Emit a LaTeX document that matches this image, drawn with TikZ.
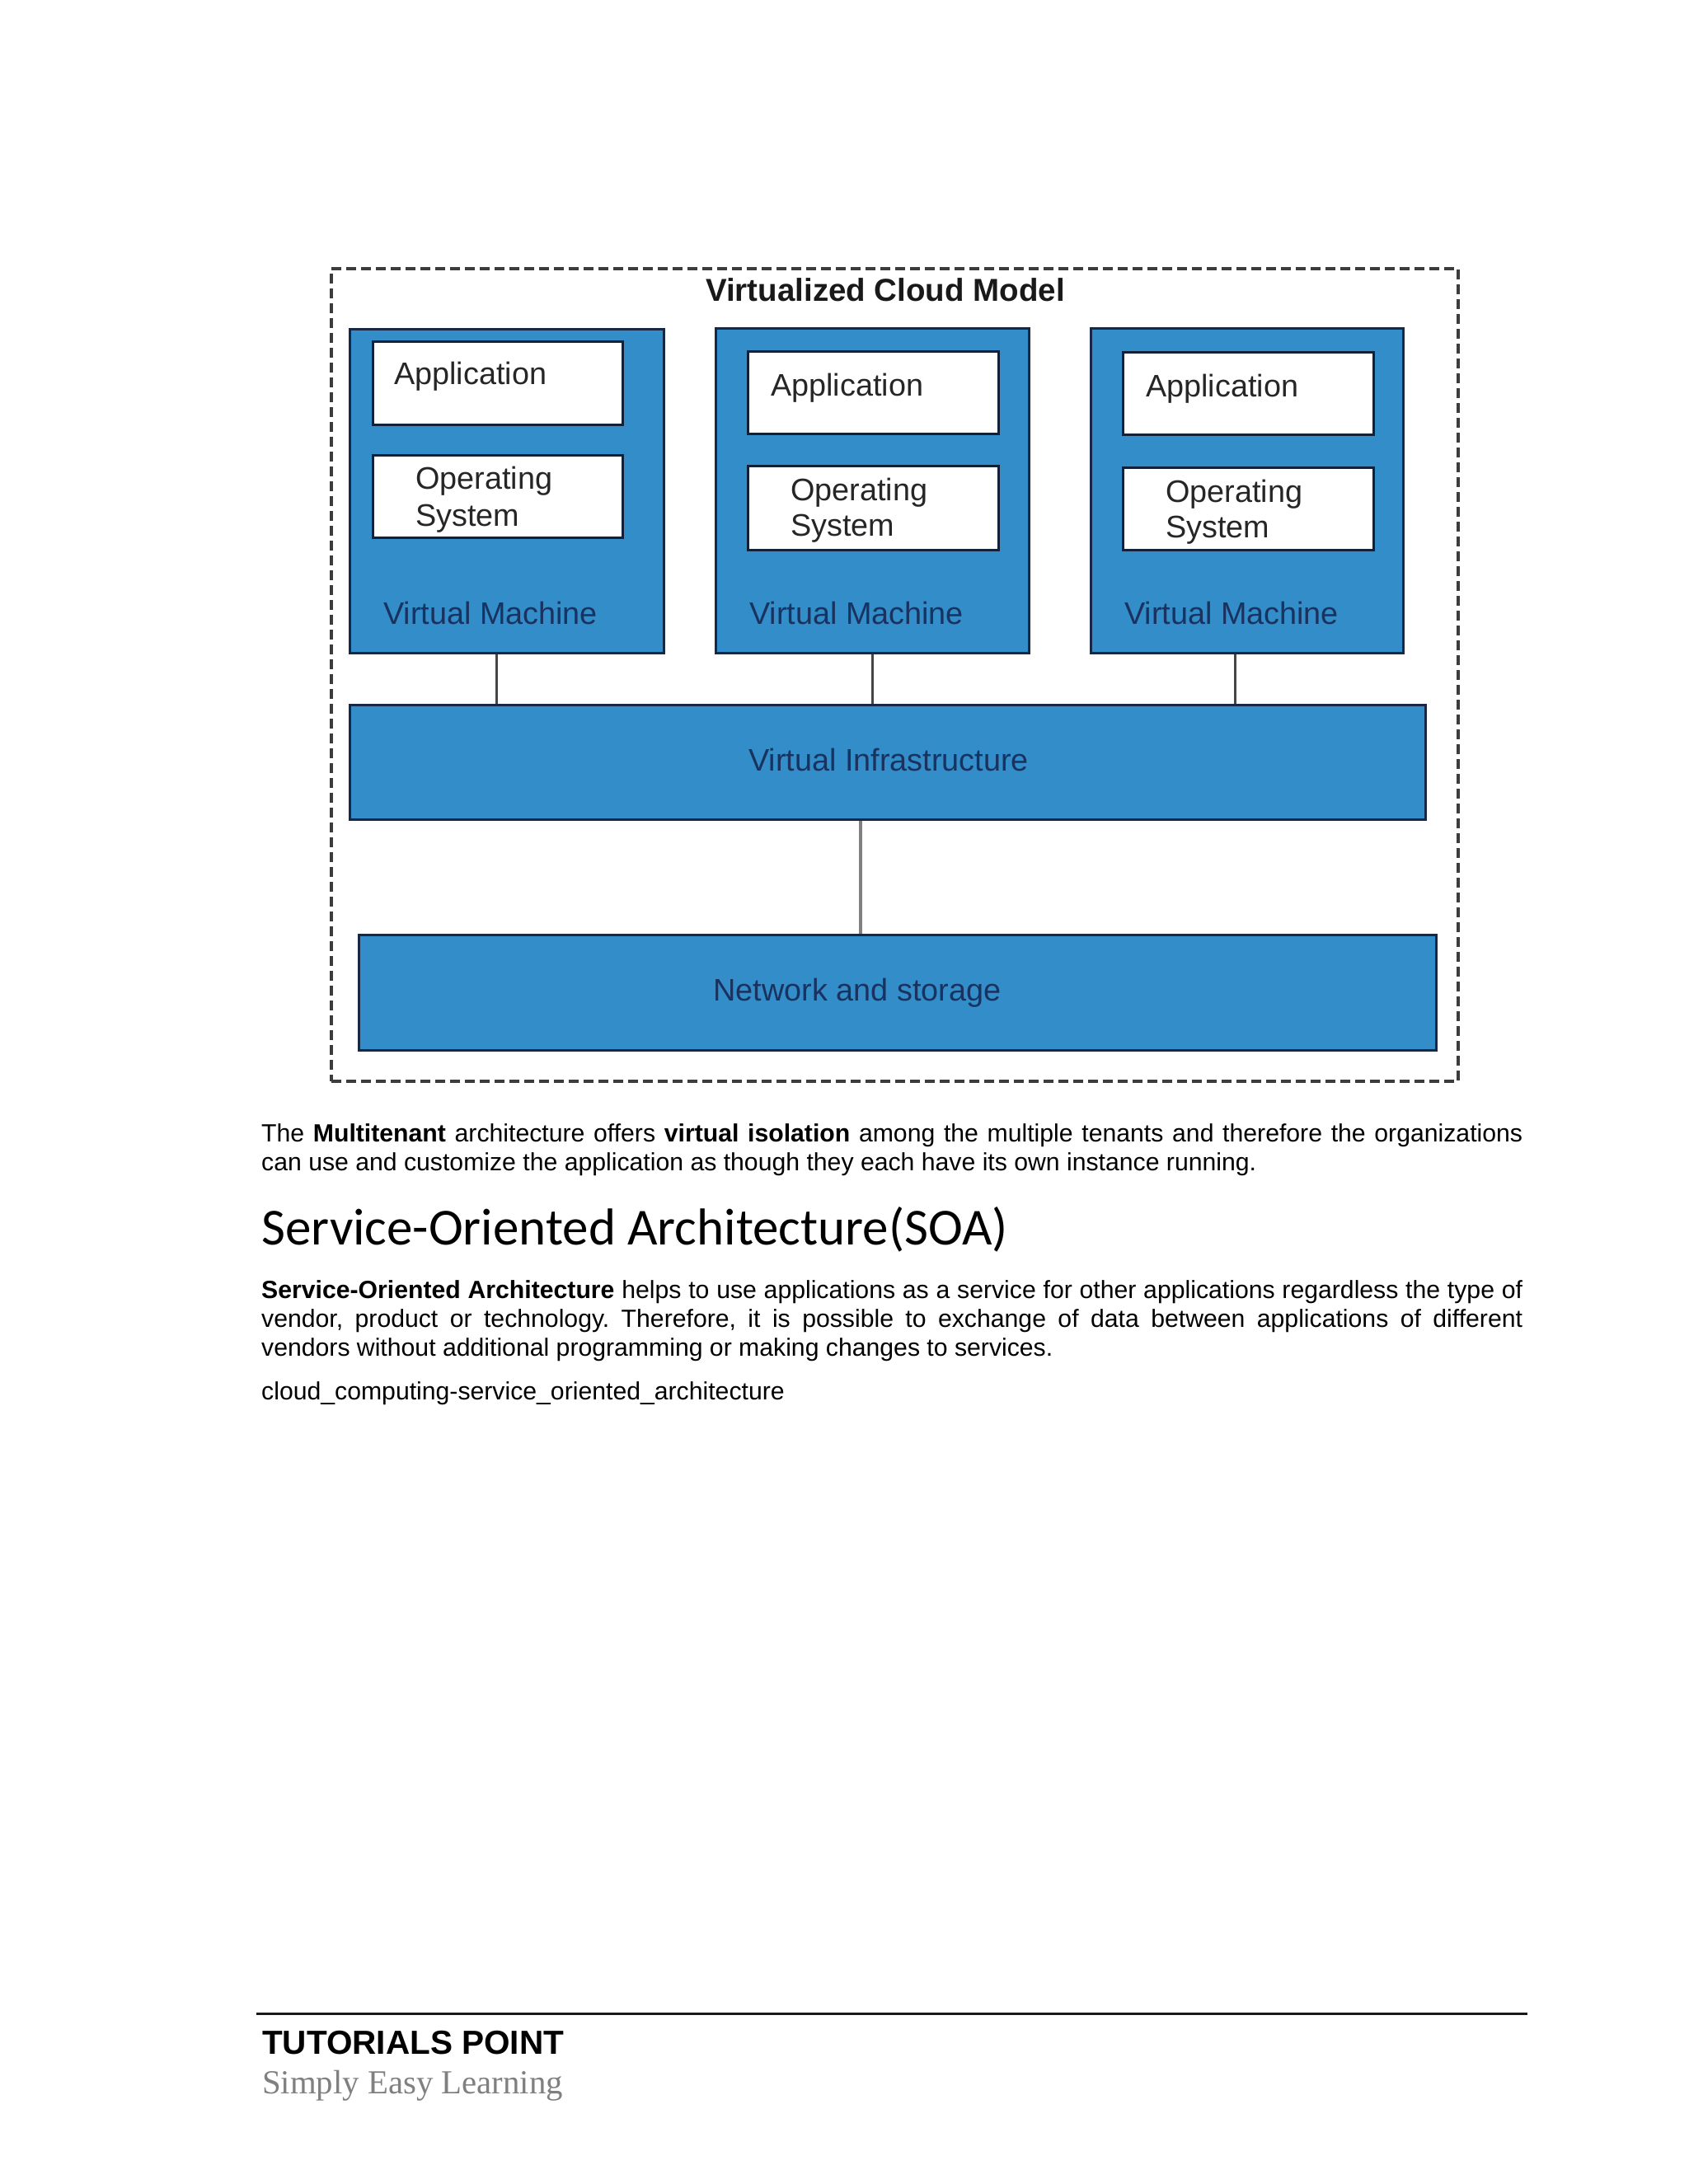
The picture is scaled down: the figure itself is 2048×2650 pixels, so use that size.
\documentclass[tikz,border=0pt]{standalone}
\usepackage{fontspec}
\setmainfont{Liberation Sans}
\newfontfamily\headfont{Carlito}
\newfontfamily\footserif{Liberation Serif}
\frenchspacing
\definecolor{vmblue}{RGB}{50,141,200}
\definecolor{navy}{RGB}{22,40,70}
\definecolor{vmtext}{RGB}{25,50,95}
\definecolor{framegray}{RGB}{60,60,60}
\definecolor{linkgray}{RGB}{70,70,70}
\definecolor{footgray}{RGB}{128,128,128}
\tikzset{
  vmbox/.style={draw=navy, fill=vmblue, line width=3pt, anchor=north west, inner sep=0pt},
  whitebox/.style={draw=navy!80!black, fill=white, line width=3.2pt, anchor=north west, inner sep=0pt},
  layerbox/.style={draw=navy, fill=vmblue, line width=3pt, anchor=north west, inner sep=0pt},
  dtext/.style={anchor=base west, inner sep=0pt, font=\fontsize{37.8}{44}\selectfont, text=black!85},
  vmlabel/.style={anchor=base west, inner sep=0pt, font=\fontsize{37.8}{44}\selectfont, text=vmtext},
  ctext/.style={anchor=base, inner sep=0pt, font=\fontsize{37.8}{44}\selectfont, text=vmtext},
  body/.style={anchor=base west, inner sep=0pt, font=\fontsize{30.2}{35}\selectfont},
  link/.style={draw=linkgray, line width=3pt},
}
\begin{document}
\begin{tikzpicture}[x=1pt,y=-1pt]
\useasboundingbox[fill=white] (0,0) rectangle (2048,2650);

% dashed frame
\node[draw=framegray, dash pattern=on 12pt off 6pt, line width=3.5pt, anchor=north west, inner sep=0pt,
      minimum width=1367pt, minimum height=986pt] (frame) at (400,324) {};
\node[anchor=base, inner sep=0pt, font=\fontsize{38.5}{44}\selectfont\bfseries, text=black!90] (title) at (1074,365) {Virtualized Cloud Model};

% virtual machines
\node[vmbox, minimum width=381pt, minimum height=393pt] (vm1) at (423,398) {};
\node[vmbox, minimum width=380pt, minimum height=394pt] (vm2) at (867,397) {};
\node[vmbox, minimum width=379pt, minimum height=394pt] (vm3) at (1322,397) {};

\node[whitebox, minimum width=303pt, minimum height=101pt] (app1) at (451,413) {};
\node[whitebox, minimum width=303pt, minimum height=100pt] (os1) at (451,551) {};
\node[whitebox, minimum width=304pt, minimum height=100pt] (app2) at (906,425) {};
\node[whitebox, minimum width=304pt, minimum height=102pt] (os2) at (906,564) {};
\node[whitebox, minimum width=304pt, minimum height=100pt] (app3) at (1361,426) {};
\node[whitebox, minimum width=304pt, minimum height=100pt] (os3) at (1361,566) {};

\node[dtext] (app1t) at (478,466) {Application};
\node[dtext] (os1a) at (504,593) {Operating};
\node[dtext] (os1b) at (504,638) {System};
\node[dtext] (app2t) at (935,480) {Application};
\node[dtext] (os2a) at (959,607) {Operating};
\node[dtext] (os2b) at (959,650) {System};
\node[dtext] (app3t) at (1390,481) {Application};
\node[dtext] (os3a) at (1414,609) {Operating};
\node[dtext] (os3b) at (1414,652) {System};

\node[vmlabel] (vm1t) at (465,757) {Virtual Machine};
\node[vmlabel] (vm2t) at (909,757) {Virtual Machine};
\node[vmlabel] (vm3t) at (1364,757) {Virtual Machine};

% layers
\node[layerbox, minimum width=1305pt, minimum height=139pt] (vi) at (423,854) {};
\node[ctext] (vit) at (1078,935) {Virtual Infrastructure};
\node[layerbox, minimum width=1307pt, minimum height=140pt] (ns) at (434,1133) {};
\node[ctext] (nst) at (1040,1214) {Network and storage};

% connectors
\coordinate (c1) at (602,0);
\coordinate (c2) at (1058,0);
\coordinate (c3) at (1498,0);
\coordinate (c4) at (1044,0);
\draw[link] (c1 |- vm1.south) -- (c1 |- vi.north);
\draw[link] (c2 |- vm2.south) -- (c2 |- vi.north);
\draw[link] (c3 |- vm3.south) -- (c3 |- vi.north);
\draw[draw=gray, line width=3.5pt] (c4 |- vi.south) -- (c4 |- ns.north);

% body text
\node[body] (p1a) at (317,1385) {\makebox[1530pt][s]{The \textbf{Multitenant} architecture offers \textbf{virtual isolation} among the multiple tenants and therefore the organizations}};
\node[body] (p1b) at (317,1420) {can use and customize the application as though they each have its own instance running.};

\node[anchor=base west, inner sep=0pt, font=\fontsize{63}{70}\headfont] (head) at (317,1510) {Service-Oriented Architecture(SOA)};

\node[body] (p2a) at (317,1575) {\makebox[1530pt][s]{\textbf{Service-Oriented Architecture} helps to use applications as a service for other applications regardless the type of}};
\node[body] (p2b) at (317,1610) {\makebox[1530pt][s]{vendor, product or technology. Therefore, it is possible to exchange of data between applications of different}};
\node[body] (p2c) at (317,1645) {vendors without additional programming or making changes to services.};
\node[body] (cap) at (317,1698) {cloud\_computing-service\_oriented\_architecture};

% footer
\coordinate (fl) at (311,2443);
\coordinate (fr) at (1853,2443);
\draw[black!90, line width=3pt] (fl) -- (fr);
\node[anchor=base west, inner sep=0pt, font=\fontsize{40.5}{46}\selectfont\bfseries] (tp) at (318,2492) {TUTORIALS POINT};
\node[anchor=base west, inner sep=0pt, font=\fontsize{40.8}{46}\footserif, text=footgray] (sel) at (318,2540) {Simply Easy Learning};
\end{tikzpicture}
\end{document}
